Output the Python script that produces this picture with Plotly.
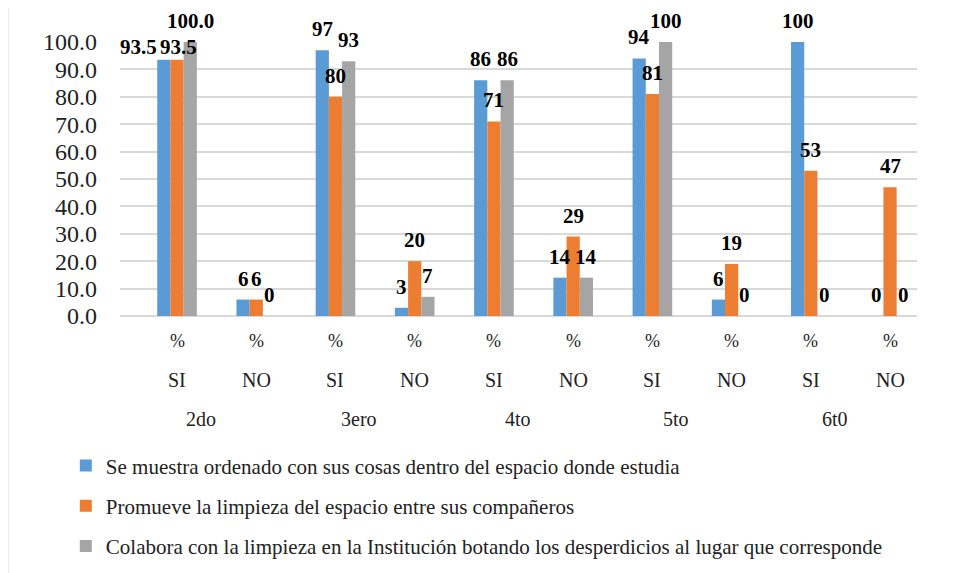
import plotly.graph_objects as go

grades = ["2do", "3ero", "4to", "5to", "6t0"]
answers = ["SI", "NO", "SI", "NO", "SI", "NO", "SI", "NO", "SI", "NO"]
unit_labels = ["%"] * 10
series_names = [
    "Se muestra ordenado con sus cosas dentro del espacio donde estudia",
    "Promueve la limpieza del espacio entre sus compañeros",
    "Colabora con la limpieza en la Institución botando los desperdicios al lugar que corresponde",
]
ordenado = [93.5, 6, 97, 3, 86, 14, 94, 6, 100, 0]
promueve = [93.5, 6, 80, 20, 71, 29, 81, 19, 53, 47]
colabora = [100.0, 0, 93, 7, 86, 14, 100, 0, 0, 0]
label_decimals = [1, 0, 0, 0, 0, 0, 0, 0, 0, 0]
y_ticks = [0, 10, 20, 30, 40, 50, 60, 70, 80, 90, 100]

colors = ["#5B9BD5", "#ED7D31", "#A5A5A5"]
FONT = "Liberation Serif"
BARGAP = 0.5
# (series, category) -> (xshift, yshift) pixel nudges for crowded labels
LABEL_NUDGE = {(0, 0): (-25, 13), (1, 0): (1, 13)}

x = list(range(len(answers)))
all_series = [ordenado, promueve, colabora]
n_series = len(all_series)
fig = go.Figure()
annotations = []
bar_w = (1 - BARGAP) / n_series
for k, (name, vals) in enumerate(zip(series_names, all_series)):
    fig.add_trace(go.Bar(
        x=x, y=vals, name=name, legendgroup=f"g{k}",
        marker=dict(color=colors[k], line=dict(width=0)),
    ))
    offset = (k - (n_series - 1) / 2) * bar_w
    for xi, v, d in zip(x, vals, label_decimals):
        xs, ys = LABEL_NUDGE.get((k, xi), (0, 21))
        annotations.append(dict(
            x=xi + offset, y=v, xref="x", yref="y", text=f"{v:.{d}f}",
            showarrow=False, yanchor="middle", yshift=ys, xshift=xs,
            font=dict(family=FONT, size=21, color="black", weight="bold")))

for i, lab in enumerate(unit_labels):
    annotations.append(dict(x=i, y=-0.091, xref="x", yref="paper", text=lab,
                            showarrow=False, yanchor="middle",
                            font=dict(family=FONT, size=18, color="#222")))
for i, lab in enumerate(answers):
    annotations.append(dict(x=i, y=-0.234, xref="x", yref="paper", text=lab,
                            showarrow=False, yanchor="middle",
                            font=dict(family=FONT, size=20, color="#222")))
for g, lab in enumerate(grades):
    annotations.append(dict(x=2 * g + 0.3, y=-0.376, xref="x", yref="paper", text=lab,
                            showarrow=False, yanchor="middle",
                            font=dict(family=FONT, size=20, color="#222")))

fig.update_layout(
    width=955, height=573,
    margin=dict(l=112, r=46, t=34, b=265, autoexpand=False),
    paper_bgcolor="white", plot_bgcolor="white",
    barmode="group", bargap=BARGAP, bargroupgap=0,
    font=dict(family=FONT, color="#222"),
    xaxis=dict(range=[-0.72, 9.34], showticklabels=False, showgrid=False,
               zeroline=False, showline=False, ticks=""),
    yaxis=dict(range=[0, 100], tickvals=y_ticks, tickformat=".1f",
               showgrid=True, gridcolor="#D9D9D9", gridwidth=2,
               zeroline=True, zerolinecolor="#D9D9D9", zerolinewidth=2,
               showline=False, ticks="", ticklabelstandoff=22,
               tickfont=dict(family=FONT, size=24, color="#222")),
    showlegend=True,
    legend=dict(orientation="v", x=-0.068, xanchor="left", y=-0.472, yanchor="top",
                tracegroupgap=10, traceorder="grouped",
                font=dict(family=FONT, size=21, color="#222"),
                bgcolor="rgba(0,0,0,0)"),
    annotations=annotations,
    shapes=[dict(type="rect", xref="paper", yref="paper",
                 x0=-0.1405, x1=1.06, y0=-0.97, y1=1.1387,
                 line=dict(color="#D9D9D9", width=1), fillcolor="rgba(0,0,0,0)",
                 layer="below")],
)

fig.write_html("out.html")
